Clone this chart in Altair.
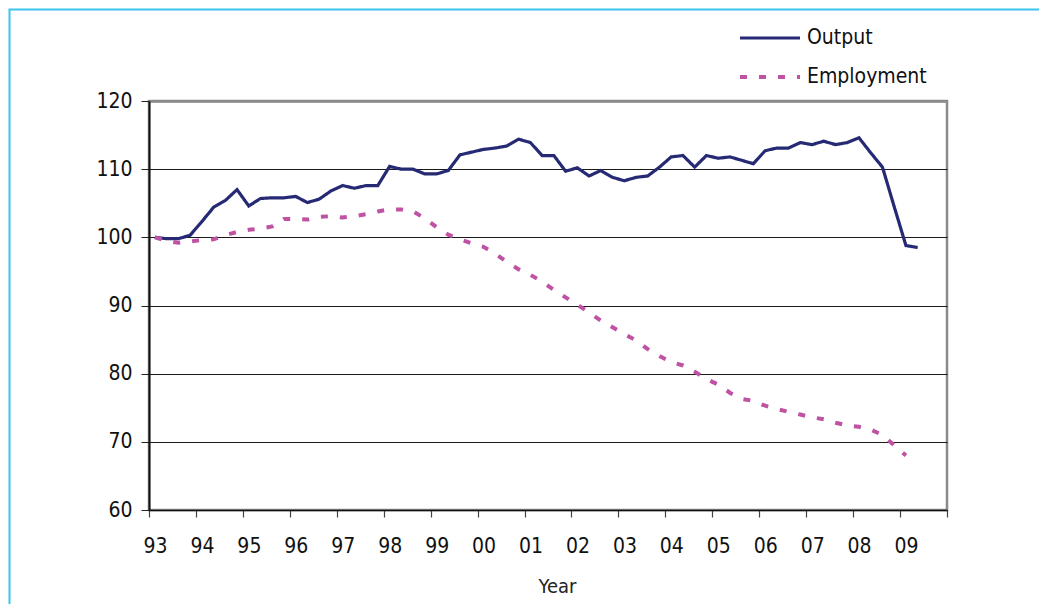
import json
import altair as alt
import pandas as pd

# ---- data (index 0 = 1993 Q1, quarterly) ----
year_labels = ["93", "94", "95", "96", "97", "98", "99", "00", "01",
               "02", "03", "04", "05", "06", "07", "08", "09"]

output = [100.0, 99.8, 99.8, 100.3, 102.3, 104.4, 105.4, 107.0,
          104.6, 105.7, 105.8, 105.8, 106.0, 105.1, 105.6, 106.8,
          107.6, 107.2, 107.6, 107.6, 110.4, 110.0, 110.0, 109.3,
          109.3, 109.8, 112.1, 112.5, 112.9, 113.1, 113.4, 114.4,
          113.9, 112.0, 112.0, 109.7, 110.2, 109.0, 109.8, 108.8,
          108.3, 108.8, 109.0, 110.3, 111.8, 112.0, 110.3, 112.0,
          111.6, 111.8, 111.3, 110.8, 112.7, 113.1, 113.1, 113.9,
          113.6, 114.1, 113.6, 113.9, 114.6, 112.4, 110.3, 104.5,
          98.8, 98.5]

employment = [100.0, 99.5, 99.2, 99.4, 99.6, 99.7, 100.3, 100.8,
              101.1, 101.3, 101.6, 102.7, 102.7, 102.6, 103.0, 103.1,
              102.9, 103.1, 103.4, 103.8, 104.1, 104.1, 103.8, 102.8,
              101.5, 100.4, 99.7, 99.1, 98.6, 97.6, 96.4, 95.3,
              94.5, 93.5, 92.3, 91.2, 90.1, 89.0, 87.8, 86.8,
              85.8, 84.9, 83.6, 82.6, 81.7, 81.2, 80.3, 79.2,
              78.4, 77.2, 76.3, 76.0, 75.3, 74.8, 74.4, 74.0,
              73.6, 73.3, 72.8, 72.4, 72.2, 71.8, 71.0, 69.5,
              68.0]

series_names = ["Output", "Employment"]
series_colors = ["#262A74", "#BF52A2"]

rows = []
for i, v in enumerate(output):
    rows.append({"q": i, "series": "Output", "value": v})
for i, v in enumerate(employment):
    rows.append({"q": i, "series": "Employment", "value": v})
df = pd.DataFrame(rows)

FONT = "DejaVu Sans Condensed"
FS = 21

n_q = 4 * len(year_labels)  # 68 quarters -> end of 2009
label_expr = "(" + json.dumps(year_labels + [""]) + ")[round(datum.value / 4)]"

lines = alt.Chart(df).transform_calculate(
    xpos="datum.q + 0.5"
).mark_line(clip=False).encode(
    x=alt.X("xpos:Q",
            scale=alt.Scale(domain=[0, n_q], nice=False, zero=False),
            axis=alt.Axis(values=list(range(0, n_q + 1, 4)),
                          labelExpr=label_expr,
                          labelOffset=6,
                          labelFlush=False,
                          labelOverlap=False,
                          labelBound=False,
                          grid=False,
                          tickSize=7,
                          tickColor="#444",
                          tickWidth=1.2,
                          domainColor="#111",
                          domainWidth=1.5,
                          labelPadding=18,
                          labelFontSize=FS,
                          labelColor="#111",
                          title="Year",
                          titleFontSize=FS - 1,
                          titleFontWeight="normal",
                          titleColor="#222",
                          titleX=408,
                          titleY=76,
                          titleBaseline="middle")),
    y=alt.Y("value:Q",
            scale=alt.Scale(domain=[60, 120], nice=False, zero=False),
            axis=alt.Axis(values=[60, 70, 80, 90, 100, 110, 120],
                          grid=True,
                          gridColor=alt.condition("datum.value == 120",
                                                  alt.value("#8a8a8a"),
                                                  alt.value("#1a1a1a")),
                          gridWidth=alt.condition("datum.value == 120",
                                                  alt.value(2.5),
                                                  alt.value(1.2)),
                          tickSize=8,
                          tickColor="#222",
                          domainColor="#111",
                          domainWidth=2,
                          labelPadding=9,
                          labelFontSize=FS,
                          labelColor="#111",
                          title=None)),
    color=alt.Color("series:N",
                    scale=alt.Scale(domain=series_names, range=series_colors),
                    legend=alt.Legend(title=None)),
    strokeDash=alt.StrokeDash("series:N",
                              scale=alt.Scale(domain=series_names,
                                              range=[[1, 0], [7, 12]]),
                              legend=alt.Legend(title=None)),
    strokeWidth=alt.StrokeWidth("series:N",
                                scale=alt.Scale(domain=series_names,
                                                range=[3.2, 4]),
                                legend=alt.Legend(title=None)),
)

frame = alt.Chart(pd.DataFrame({"a": [0]})).mark_rect(
    fillOpacity=0, stroke="#3CC4EE", strokeWidth=2, clip=False
).encode(
    x=alt.value(-139.5), x2=alt.value(1000),
    y=alt.value(-91.5), y2=alt.value(700)
)

chart = alt.layer(frame, lines).properties(
    width=798,
    height=409,
    autosize=alt.AutoSizeParams(type="none"),
    padding={"left": 141, "top": 93, "right": 92, "bottom": 94},
    background="white",
).configure(
    font=FONT
).configure_view(
    stroke="#8a8a8a", strokeWidth=2.5
).configure_legend(
    orient="none",
    legendX=589,
    legendY=-73,
    padding=0,
    symbolType="stroke",
    symbolSize=3600,
    clipHeight=20,
    rowPadding=18,
    labelFontSize=FS,
    labelColor="#111",
    labelOffset=5,
    labelLimit=300,
)

chart.save("out.html", embed_options={"renderer": "svg", "actions": False})
